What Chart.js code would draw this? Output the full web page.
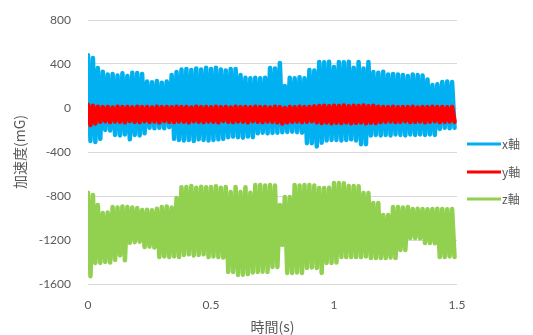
<!DOCTYPE html>
<html>
<head>
<meta charset="utf-8">
<script src="https://cdn.jsdelivr.net/npm/chart.js@4.4.1/dist/chart.umd.min.js"></script>
<style>
  html, body { margin: 0; padding: 0; background: #ffffff; }
  #wrap { width: 533px; height: 335px; position: relative; }
</style>
</head>
<body>
<div id="wrap"><canvas id="chart" width="533" height="335"></canvas></div>
<script>
// Accelerometer record, one sample every 10 ms (peak / trough pairs alternate)
const SAMPLE_INTERVAL_S = 0.01;
const seriesNames = ['x軸', 'y軸', 'z軸'];
const yTickValues = [-1600, -1200, -800, -400, 0, 400, 800];
const xTickValues = [0, 0.5, 1, 1.5];

// x-axis acceleration (mG)
const accelX = [
  480, -300, 455, -309, 364, -280, 330, -200, 305, -205,
  310, -245, 295, -250, 315, -240, 290, -285, 320, -245,
  318, -250, 310, -230, 240, -180, 235, -185, 245, -180,
  230, -185, 240, -175, 300, -280, 327, -290, 350, -295,
  355, -290, 345, -300, 360, -285, 350, -290, 365, -295,
  355, -290, 365, -285, 350, -280, 340, -265, 355, -260,
  355, -265, 300, -270, 275, -260, 270, -265, 275, -230,
  270, -225, 275, -230, 364, -227, 360, -225, 410, -220,
  200, -218, 275, -215, 270, -220, 280, -225, 270, -320,
  345, -320, 340, -350, 418, -315, 415, -295, 420, -290,
  373, -290, 418, -295, 415, -290, 420, -285, 365, -295,
  418, -330, 360, -330, 418, -250, 327, -245, 320, -250,
  330, -245, 305, -250, 310, -240, 305, -245, 300, -250,
  290, -240, 305, -245, 300, -240, 295, -245, 260, -240,
  209, -245, 215, -190, 236, -180, 240, -185, 236, -180
];

// y-axis acceleration (mG)
const accelY = [
  27, -155, 20, -140, 12, -125, 8, -120, 10, -128,
  5, -122, 12, -125, 8, -130, 10, -118, 6, -125,
  12, -128, 8, -120, 10, -125, 5, -122, 12, -130,
  8, -118, 10, -125, 6, -128, 12, -122, 8, -125,
  10, -130, 5, -120, 12, -125, 8, -128, 10, -122,
  6, -125, 12, -130, 8, -118, 10, -125, 5, -128,
  12, -122, 8, -125, 10, -130, 6, -120, 12, -125,
  8, -128, 10, -122, 5, -125, 12, -130, 8, -140,
  0, -130, 10, -125, 6, -122, 12, -128, 8, -125,
  10, -120, 15, -130, 18, -136, 20, -132, 16, -138,
  20, -134, 18, -136, 22, -130, 16, -138, 20, -135,
  18, -132, 22, -138, 16, -134, 20, -136, 12, -128,
  10, -125, 8, -122, 12, -128, 6, -125, 10, -120,
  8, -128, 12, -125, 5, -122, 10, -130, 8, -125,
  12, -120, 8, -128, 10, -125, 6, -122, 10, -125
];

// z-axis acceleration (mG)
const accelZ = [
  -770, -1530, -791, -1409, -882, -1409, -955, -1400, -950, -1405,
  -900, -1382, -905, -1340, -895, -1385, -900, -1225, -905, -1220,
  -910, -1215, -927, -1264, -925, -1260, -930, -1268, -915, -1355,
  -900, -1350, -895, -1355, -905, -1350, -818, -1355, -720, -1336,
  -718, -1330, -710, -1340, -725, -1336, -715, -1330, -720, -1355,
  -718, -1350, -712, -1355, -725, -1360, -718, -1491, -764, -1490,
  -718, -1518, -764, -1515, -720, -1510, -770, -1495, -700, -1491,
  -700, -1488, -705, -1490, -700, -1445, -705, -1445, -882, -1245,
  -809, -1500, -809, -1500, -700, -1495, -705, -1500, -700, -1455,
  -700, -1450, -705, -1455, -727, -1500, -727, -1409, -725, -1409,
  -682, -1405, -682, -1355, -685, -1355, -710, -1355, -708, -1355,
  -712, -1355, -773, -1350, -773, -1364, -864, -1364, -864, -1364,
  -973, -1364, -973, -1360, -900, -1364, -900, -1291, -905, -1291,
  -900, -1182, -918, -1182, -915, -1185, -918, -1227, -920, -1227,
  -918, -1230, -915, -1355, -918, -1355, -920, -1350, -918, -1355
];

const seriesColors = ['#00b0f0', '#ff0000', '#92d050'];
const axisGray = '#595959';
const gridGray = '#d9d9d9';

function toPoints(values) {
  return values.map((v, i) => ({ x: +(i * SAMPLE_INTERVAL_S).toFixed(3), y: v }));
}

// Legend drawn to the right of the plot, stacked like the spreadsheet legend
const sideLegend = {
  id: 'sideLegend',
  afterDraw(chart) {
    const { ctx, chartArea } = chart;
    const x0 = chartArea.right + 10;
    const rowY = [144, 172, 199];
    ctx.save();
    chart.data.datasets.forEach((ds, i) => {
      const y = rowY[i];
      ctx.strokeStyle = ds.borderColor;
      ctx.lineWidth = 3;
      ctx.lineCap = 'butt';
      ctx.beginPath();
      ctx.moveTo(x0, y);
      ctx.lineTo(x0 + 34, y);
      ctx.stroke();
      ctx.fillStyle = axisGray;
      ctx.font = '12px "Noto Sans CJK JP", "Lato", sans-serif';
      ctx.textBaseline = 'middle';
      ctx.textAlign = 'left';
      ctx.fillText(ds.label, x0 + 35, y);
    });
    ctx.restore();
  }
};

const datasets = [accelX, accelY, accelZ].map((vals, i) => ({
  label: seriesNames[i],
  data: toPoints(vals),
  borderColor: seriesColors[i],
  backgroundColor: seriesColors[i],
  borderWidth: 4.5,
  borderJoinStyle: 'round',
  borderCapStyle: 'round',
  pointRadius: 0,
  tension: 0,
  fill: false,
  order: i === 1 ? 0 : (i === 0 ? 1 : 2)
}));

new Chart(document.getElementById('chart'), {
  type: 'line',
  data: { datasets },
  options: {
    responsive: false,
    animation: false,
    events: [],
    layout: { padding: { top: 20, right: 76, bottom: 0, left: 0 } },
    plugins: { legend: { display: false }, tooltip: { enabled: false } },
    scales: {
      x: {
        type: 'linear',
        min: 0,
        max: 1.5,
        afterBuildTicks(scale) { scale.ticks = xTickValues.map(v => ({ value: v })); },
        afterFit(scale) { scale.height = 51; },
        grid: { display: false },
        border: { display: false },
        ticks: {
          padding: 6,
          color: axisGray,
          font: { family: 'Lato', size: 12 },
          maxRotation: 0,
          callback: v => String(v)
        },
        title: {
          display: true,
          text: '時間(s)',
          color: axisGray,
          font: { family: '"Noto Sans CJK JP"', size: 14 },
          padding: { top: 0, bottom: 0 }
        }
      },
      y: {
        min: -1600,
        max: 800,
        afterBuildTicks(scale) { scale.ticks = yTickValues.map(v => ({ value: v })); },
        afterFit(scale) {
          scale.width = 88;
          scale.paddingTop = 0;
          scale.paddingBottom = 0;
        },
        grid: { color: gridGray, lineWidth: 1, drawTicks: false },
        border: { display: false },
        ticks: {
          padding: 17,
          color: axisGray,
          font: { family: 'Lato', size: 12 },
          callback: v => String(v)
        },
        title: {
          display: true,
          text: '加速度(mG)',
          color: axisGray,
          font: { family: '"Noto Sans CJK JP"', size: 14 },
          padding: { top: 11, bottom: 0 }
        }
      }
    }
  },
  plugins: [sideLegend]
});
</script>
</body>
</html>
